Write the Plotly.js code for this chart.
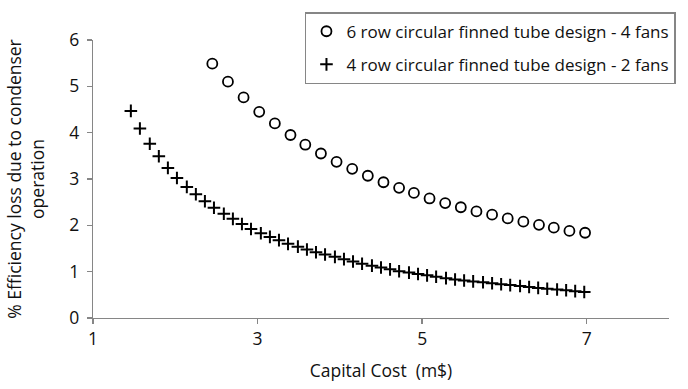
<!DOCTYPE html>
<html>
<head>
<meta charset="utf-8">
<script src="https://cdn.plot.ly/plotly-3.0.1.min.js"></script>
<style>html,body{margin:0;padding:0;background:#fff;}#chart{width:688px;height:389px;}</style>
</head>
<body>
<div id="chart"></div>
<script>
// Series 1: 6 row circular finned tube design - 4 fans
const cost6row = [2.45, 2.64, 2.83, 3.02, 3.21, 3.40, 3.58, 3.77, 3.96, 4.15, 4.34, 4.53, 4.72, 4.90, 5.09, 5.28, 5.47, 5.66, 5.85, 6.04, 6.23, 6.42, 6.60, 6.79, 6.98];
const loss6row = [5.49, 5.10, 4.76, 4.45, 4.20, 3.95, 3.74, 3.55, 3.37, 3.22, 3.07, 2.93, 2.81, 2.70, 2.58, 2.48, 2.39, 2.30, 2.23, 2.15, 2.08, 2.01, 1.95, 1.88, 1.84];

// Series 2: 4 row circular finned tube design - 2 fans
const cost4row = [1.46, 1.57, 1.69, 1.80, 1.91, 2.02, 2.14, 2.25, 2.36, 2.47, 2.59, 2.70, 2.81, 2.92, 3.04, 3.15, 3.26, 3.37, 3.49, 3.60, 3.71, 3.82, 3.94, 4.05, 4.16, 4.27, 4.39, 4.50, 4.61, 4.72, 4.84, 4.95, 5.06, 5.17, 5.29, 5.40, 5.51, 5.62, 5.74, 5.85, 5.96, 6.07, 6.19, 6.30, 6.41, 6.52, 6.64, 6.75, 6.86, 6.97];
const loss4row = [4.47, 4.09, 3.76, 3.49, 3.24, 3.02, 2.83, 2.67, 2.52, 2.38, 2.25, 2.14, 2.03, 1.92, 1.83, 1.75, 1.68, 1.60, 1.54, 1.48, 1.42, 1.37, 1.32, 1.27, 1.22, 1.17, 1.13, 1.09, 1.05, 1.01, 0.98, 0.95, 0.92, 0.89, 0.86, 0.83, 0.81, 0.79, 0.77, 0.75, 0.73, 0.71, 0.69, 0.67, 0.65, 0.63, 0.615, 0.60, 0.58, 0.56];

const seriesNames = ["6 row circular finned tube design - 4 fans", "4 row circular finned tube design - 2 fans"];
const xTickVals = [1, 3, 5, 7];
const yTickVals = [0, 1, 2, 3, 4, 5, 6];

const FONT = "Open Sans, Noto Sans, sans-serif";
const FS = 17.5;
const LEGEND_FS = 17;
const AXIS_COLOR = "#868686";
const TEXT_COLOR = "#111";

const traces = [
  {
    x: cost6row, y: loss6row, type: "scatter", mode: "markers",
    name: seriesNames[0], legendgroup: "a",
    marker: {symbol: "circle-open", size: 10, color: "#000", line: {width: 1.8, color: "#000"}}
  },
  {
    x: cost4row, y: loss4row, type: "scatter", mode: "markers",
    name: seriesNames[1], legendgroup: "b",
    marker: {symbol: "cross-thin", size: 9, color: "#000", line: {width: 2, color: "#000"}}
  }
];

const layout = {
  width: 688, height: 389,
  autosize: false,
  margin: {l: 93, r: 19, t: 35, b: 71},
  paper_bgcolor: "#fff", plot_bgcolor: "#fff",
  font: {family: FONT, size: FS, color: TEXT_COLOR},
  showlegend: true,
  legend: {
    x: 0.368, y: 1.1, xanchor: "left", yanchor: "top",
    bordercolor: AXIS_COLOR, borderwidth: 1.5, bgcolor: "#fff",
    font: {family: FONT, size: LEGEND_FS, color: TEXT_COLOR},
    traceorder: "grouped", tracegroupgap: 8
  },
  xaxis: {
    range: [1, 8], tickvals: xTickVals, ticktext: xTickVals.map(String),
    showgrid: false, zeroline: false, automargin: false,
    showline: true, linecolor: AXIS_COLOR, linewidth: 1.3,
    ticks: "outside", ticklen: 5, tickcolor: AXIS_COLOR, tickwidth: 1.3,
    tickfont: {family: FONT, size: FS, color: TEXT_COLOR},
    title: {text: "Capital Cost  (m$)", font: {family: FONT, size: FS, color: TEXT_COLOR}, standoff: 15}
  },
  yaxis: {
    range: [0, 6], tickvals: yTickVals, ticktext: yTickVals.map(String),
    showgrid: false, zeroline: false, automargin: false,
    showline: true, linecolor: AXIS_COLOR, linewidth: 1.3,
    ticks: "outside", ticklen: 5, tickcolor: AXIS_COLOR, tickwidth: 1.3,
    ticklabelstandoff: 4,
    tickfont: {family: FONT, size: FS, color: TEXT_COLOR},
    title: {text: "% Efficiency loss due to condenser<br>operation", font: {family: FONT, size: FS, color: TEXT_COLOR}, standoff: 20}
  }
};

Plotly.newPlot("chart", traces, layout, {displayModeBar: false, staticPlot: true});
</script>
</body>
</html>
